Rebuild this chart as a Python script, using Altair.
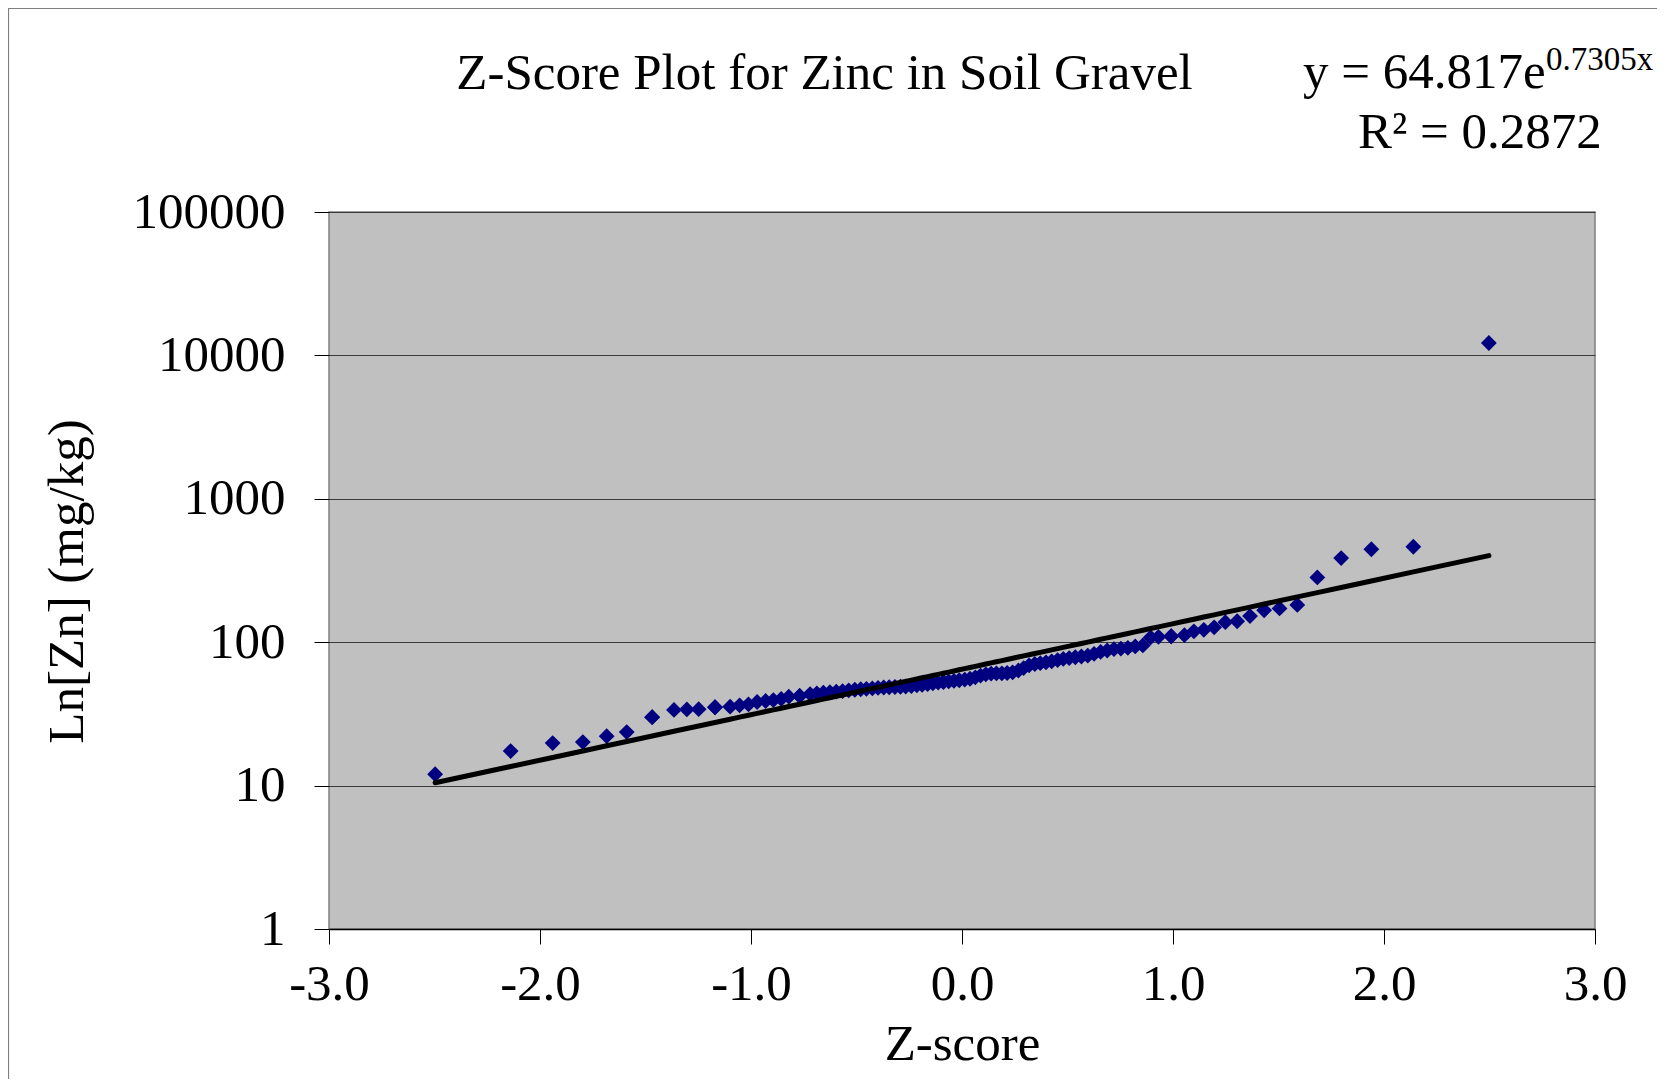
import altair as alt
import pandas as pd

# ---- data ----
z_score = [
    -2.497, -2.139, -1.940, -1.797, -1.684, -1.589, -1.4685, -1.4685, -1.365, -1.304,
    -1.248, -1.1705, -1.1705, -1.099, -1.054, -1.012, -0.971, -0.931, -0.894, -0.857,
    -0.821, -0.7695, -0.7695, -0.720, -0.688, -0.657, -0.626, -0.596, -0.566, -0.537,
    -0.508, -0.480, -0.453, -0.425, -0.398, -0.371, -0.345, -0.318, -0.292, -0.267,
    -0.240, -0.214, -0.189, -0.163, -0.138, -0.113, -0.088, -0.063, -0.038, -0.013,
    0.013, 0.038, 0.063, 0.088, 0.113, 0.138, 0.163, 0.189, 0.214, 0.240,
    0.267, 0.292, 0.318, 0.345, 0.371, 0.398, 0.425, 0.453, 0.480, 0.508,
    0.537, 0.566, 0.596, 0.626, 0.657, 0.688, 0.720, 0.753, 0.786, 0.821,
    0.857, 0.894, 0.931, 0.9915, 0.9915, 1.054, 1.099, 1.146, 1.195, 1.248,
    1.304, 1.365, 1.432, 1.505, 1.589, 1.684, 1.797, 1.940, 2.139, 2.497,
]
zinc_mg_kg = [
    12, 17.4, 19.8, 20.1, 22.1, 23.6, 30, 30, 33.7, 34,
    34.1, 35.2, 35.2, 35.5, 36.3, 36.9, 38.3, 38.9, 39.5, 40.2,
    41.7, 42.2, 42.2, 43.5, 44, 44.4, 44.8, 45.2, 45.6, 46.2,
    46.6, 47, 47.3, 47.6, 48, 48.3, 48.5, 48.7, 48.9, 49.1,
    49.5, 50, 50.5, 51, 51.7, 52.3, 52.8, 53.3, 53.8, 54.3,
    54.8, 55.6, 56.9, 58.5, 59.7, 60.4, 60.6, 60.6, 61, 61.6,
    63.5, 66, 69, 70.5, 71.4, 72.3, 73.5, 75.1, 76.5, 77.5,
    78.5, 79.5, 80.5, 83, 85.5, 87.5, 89.5, 90.2, 91.3, 93.5,
    95, 108, 109, 110, 110, 112, 119, 122, 127, 138,
    140, 152, 167, 172, 182, 283, 386, 445, 463, 12200,
]
x_ticks = [-3, -2, -1, 0, 1, 2, 3]
y_ticks = [1, 10, 100, 1000, 10000, 100000]

fit_a = 64.817
fit_b = 0.7305
r_squared = 0.2872

title_text = "Z-Score Plot for Zinc in Soil Gravel"
x_title = "Z-score"
y_title = "Ln[Zn] (mg/kg)"

FONT = "Liberation Serif"
W, H = 1266, 717

df = pd.DataFrame({"z": z_score, "zn": zinc_mg_kg})

x_enc = alt.X(
    "z:Q",
    scale=alt.Scale(domain=[-3, 3], nice=False, zero=False),
    axis=alt.Axis(
        values=x_ticks,
        grid=False,
        title=x_title,
        labelExpr="datum.value < 0 ? '-' + format(-datum.value, '.1f') : format(datum.value, '.1f')",
        labelPadding=15,
        labelFlush=False,
        labelOverlap=False,
        domainColor="black",
        domainWidth=1.5,
        titleX=W / 2,
        titleY=130,
        titleAlign="center",
        titleBaseline="alphabetic",
    ),
)
y_scale = alt.Scale(type="log", domain=[1, 100000], nice=False)

points = alt.Chart(df).mark_point(
    shape="diamond", filled=True, size=250, color="#000080", opacity=1
).encode(
    x=x_enc,
    y=alt.Y(
        "zn:Q",
        scale=y_scale,
        axis=alt.Axis(
            values=y_ticks,
            format="d",
            grid=True,
            gridColor="#3a3a3a",
            gridWidth=1,
            domain=False,
            title=y_title,
            labelPadding=29,
            labelBaseline="middle",
            labelFlush=False,
            labelOverlap=False,
            titleAngle=270,
            titleX=-247,
            titleY=369,
            titleAlign="center",
            titleBaseline="alphabetic",
        ),
    ),
)

trend = alt.Chart(df).transform_calculate(
    fit=f"{fit_a} * exp({fit_b} * datum.z)"
).mark_line(color="black", strokeWidth=5, strokeCap="round").encode(
    x=alt.X("z:Q"),
    y=alt.Y("fit:Q"),
)

labels_df = pd.DataFrame({
    "t": [title_text, f"y = {fit_a}e", f"{fit_b}x", f"R\u00b2 = {r_squared}"],
})

def txt(i, x, y, size, align):
    return alt.Chart(labels_df).transform_filter(
        f"datum.t == {repr(labels_df.t[i])}"
    ).mark_text(
        font=FONT, fontSize=size, color="black", align=align, baseline="alphabetic"
    ).encode(text="t:N", x=alt.value(x), y=alt.value(y))

title_mark = txt(0, 495.5, -123, 51, "center")
eq_mark = txt(1, 974, -124, 51, "left")
sup_mark = txt(2, 1217, -142, 33, "left")
r2_mark = txt(3, 1029, -64, 51, "left")

frame = alt.Chart(labels_df.head(1)).mark_rect(
    fill=None, stroke="#808080", strokeWidth=1.2
).encode(
    x=alt.value(-320.5), y=alt.value(-203.5), x2=alt.value(3000), y2=alt.value(3000)
)

chart = alt.layer(
    frame, points, trend, title_mark, eq_mark, sup_mark, r2_mark
).properties(
    width=W,
    height=H,
    autosize=alt.AutoSizeParams(type="none"),
    padding={"left": 321, "top": 204, "right": 62, "bottom": 150},
    background="white",
).configure_view(
    fill="#C0C0C0", stroke="#808080", strokeWidth=1.5
).configure_axis(
    labelFont=FONT,
    titleFont=FONT,
    labelFontSize=51,
    titleFontSize=51,
    labelColor="black",
    titleColor="black",
    titleFontWeight="normal",
    tickColor="black",
    tickSize=15,
    tickWidth=1,
)

chart.save("out.html", embed_options={"renderer": "svg", "actions": False})
